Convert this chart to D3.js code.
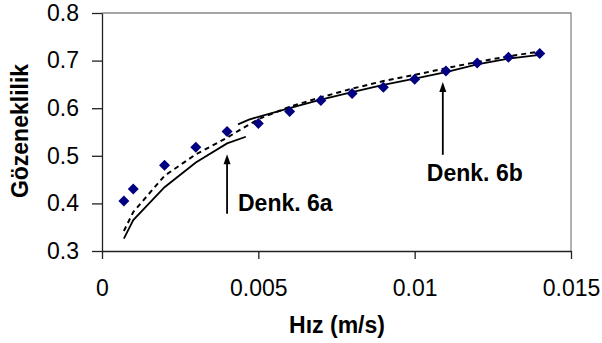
<!DOCTYPE html>
<html>
<head>
<meta charset="utf-8">
<script src="https://cdn.jsdelivr.net/npm/d3@7"></script>
<style>
	body { margin: 0; background: #fff; }
	svg text { font-family: "Liberation Sans", Arial, sans-serif; fill: #000; }
	.axis path, .axis line { stroke: #222; stroke-width: 1.3; }
	.axis text { font-size: 23px; }
</style>
</head>
<body>
<div id="chart"></div>
<script>

// measured porosity (diamonds)
var speed = [0.0007, 0.001, 0.002, 0.003, 0.004, 0.005, 0.006, 0.007, 0.008, 0.009, 0.010, 0.011, 0.012, 0.013, 0.014];
var porosity = [0.405, 0.430, 0.480, 0.518, 0.551, 0.568, 0.593, 0.616, 0.631, 0.644, 0.661, 0.678, 0.695, 0.707, 0.715];

// Denk. 6a (solid, low speed)
var speed6a = [0.0007, 0.001, 0.002, 0.003, 0.004, 0.0046];
var porosity6a = [0.326, 0.365, 0.434, 0.486, 0.526, 0.540];

// Denk. 6b (solid, high speed)
var speed6b = [0.00435, 0.0047, 0.005, 0.006, 0.007, 0.008, 0.009, 0.010, 0.011, 0.012, 0.013, 0.014];
var porosity6b = [0.566, 0.576, 0.582, 0.600, 0.618, 0.634, 0.649, 0.662, 0.676, 0.692, 0.704, 0.712];

// dashed model
var speedDash = [0.0007, 0.001, 0.002, 0.003, 0.004, 0.0045, 0.005, 0.006, 0.007, 0.008, 0.009, 0.010, 0.011, 0.012, 0.013, 0.014];
var porosityDash = [0.342, 0.382, 0.458, 0.503, 0.538, 0.558, 0.577, 0.603, 0.623, 0.641, 0.657, 0.670, 0.684, 0.697, 0.709, 0.719];

var xTicks = [0, 0.005, 0.01, 0.015];
var yTicks = [0.3, 0.4, 0.5, 0.6, 0.7, 0.8];

// annotations: [x, y tip, y tail, label x, label y, text]
var notes = [
	[0.004, 0.503, 0.378, 0.00435, 0.383, "Denk. 6a"],
	[0.0109, 0.655, 0.502, 0.01039, 0.447, "Denk. 6b"]
];


var margins = {top: 13, bottom: 92, left: 102, right: 31},
	width = 602 - margins.left - margins.right,
	height = 343 - margins.top - margins.bottom;

var xScale = d3.scaleLinear().range([0, width]).domain([0, 0.015]);
var yScale = d3.scaleLinear().range([height, 0]).domain([0.3, 0.8]);

var xAxis = d3.axisBottom().scale(xScale).tickValues(xTicks).tickSize(8).tickSizeOuter(0).tickPadding(21)
	.tickFormat(function(d) { return String(+d.toFixed(3)); });
var yAxis = d3.axisLeft().scale(yScale).tickValues(yTicks).tickSize(10).tickSizeOuter(0).tickPadding(13)
	.tickFormat(d3.format(".1f"));

var svg = d3.select("#chart")
	.append("svg")
		.attr("width", 602)
		.attr("height", 343)
	.append("g")
		.attr("transform", "translate(" + margins.left + "," + margins.top + ")");

// plot area border (top and right)
svg.append("path")
	.attr("d", "M0,0H" + width + "V" + height)
	.attr("fill", "none")
	.attr("stroke", "#888")
	.attr("stroke-width", 1.3);

svg.append("g")
	.attr("class", "x axis")
	.attr("transform", "translate(0," + height + ")")
	.call(xAxis);

svg.append("g")
	.attr("class", "y axis")
	.call(yAxis);


var line = d3.line()
	.x(function(d) { return xScale(d[0]); })
	.y(function(d) { return yScale(d[1]); });

svg.append("path")
	.datum(d3.zip(speedDash, porosityDash))
	.attr("d", line)
	.attr("fill", "none")
	.attr("stroke", "#000")
	.attr("stroke-width", 2)
	.attr("stroke-dasharray", "5,4");

[d3.zip(speed6a, porosity6a), d3.zip(speed6b, porosity6b)].forEach(function(seg) {
	svg.append("path")
		.datum(seg)
		.attr("d", line)
		.attr("fill", "none")
		.attr("stroke", "#000")
		.attr("stroke-width", 1.8);
});

svg.append("g")
	.selectAll("path")
	.data(d3.zip(speed, porosity))
	.enter().append("path")
		.attr("d", "M0,-5.5L5.5,0L0,5.5L-5.5,0Z")
		.attr("fill", "#000080")
		.attr("transform", function(d) { return "translate(" + xScale(d[0]) + "," + yScale(d[1]) + ")"; });


// arrows with labels
notes.forEach(function(n) {
	var x = xScale(n[0]), tip = yScale(n[1]), tail = yScale(n[2]);

	svg.append("line")
		.attr("x1", x).attr("x2", x)
		.attr("y1", tail).attr("y2", tip + 8)
		.attr("stroke", "#000")
		.attr("stroke-width", 1.8);

	svg.append("path")
		.attr("d", "M" + x + "," + tip + "L" + (x + 3.5) + "," + (tip + 10) + "L" + (x - 3.5) + "," + (tip + 10) + "Z")
		.attr("fill", "#000");

	svg.append("text")
		.attr("x", xScale(n[3]))
		.attr("y", yScale(n[4]))
		.attr("font-size", "23px")
		.attr("font-weight", "bold")
		.text(n[5]);
});


// axis titles
svg.append("text")
	.attr("x", width / 2 + 0.5)
	.attr("y", 320)
	.attr("text-anchor", "middle")
	.attr("font-size", "23px")
	.attr("font-weight", "bold")
	.text("Hız (m/s)");

svg.append("text")
	.attr("transform", "translate(" + (28 - margins.left) + "," + (131 - margins.top) + ") rotate(-90)")
	.attr("text-anchor", "middle")
	.attr("font-size", "23px")
	.attr("font-weight", "bold")
	.text("Gözeneklilik");

</script>
</body>
</html>
